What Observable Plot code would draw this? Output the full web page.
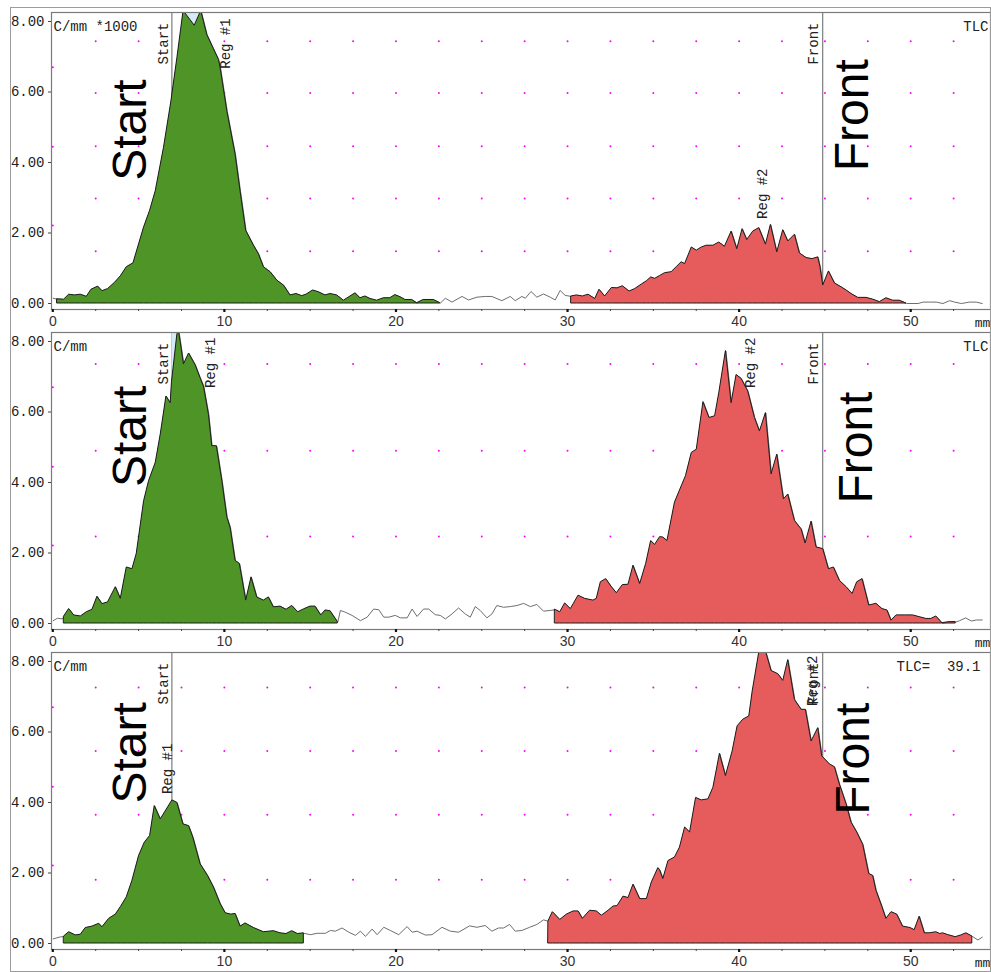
<!DOCTYPE html>
<html>
<head>
<meta charset="utf-8">
<script src="https://cdn.jsdelivr.net/npm/d3@7"></script>
<script src="https://cdn.jsdelivr.net/npm/@observablehq/plot@0.6"></script>
<style>
  body { margin: 0; background: #fff; }
  #chart { position: relative; width: 991px; height: 972px; }
  #chart svg { position: absolute; left: 0; }
  #border { position: absolute; left: 10px; top: 7px; width: 981px; height: 965px; box-sizing: border-box;
            border: 1px solid #9c9c9c; pointer-events: none; }
</style>
</head>
<body>
<div id="chart"><div id="border"></div></div>
<script>
// Radio-TLC scans: position along the plate (mm) and counts per mm.
const scan1 = [[0.02,0.15],[0.27,0.12],[0.66,0.11],[0.95,0.25],[1.28,0.23],[1.63,0.25],[1.98,0.19],[2.25,0.39],[2.64,0.48],[2.89,0.35],[3.22,0.41],[3.61,0.58],[3.96,0.77],[4.31,1.03],[4.70,1.14],[5.32,2.16],[5.67,2.63],[6.00,3.19],[6.48,4.42],[6.91,5.73],[7.26,6.96],[7.62,8.30],[8.27,7.88],[8.65,8.30],[9.00,7.62],[9.68,6.91],[9.78,6.68],[10.17,5.45],[10.65,4.23],[10.94,3.19],[11.27,2.06],[11.72,1.64],[12.01,1.40],[12.30,1.03],[12.69,0.89],[13.08,0.65],[13.47,0.51],[13.85,0.23],[14.20,0.27],[14.53,0.21],[14.78,0.25],[15.17,0.37],[15.50,0.32],[15.89,0.23],[16.18,0.27],[16.57,0.23],[16.96,0.08],[17.35,0.20],[17.64,0.29],[17.93,0.15],[18.22,0.20],[18.51,0.13],[18.90,0.08],[19.29,0.15],[19.67,0.15],[19.96,0.24],[20.26,0.18],[20.55,0.10],[20.94,0.10],[21.23,0.01],[21.61,0.10],[22.20,0.10],[22.58,0.01],[22.88,0.15],[23.26,0.04],[23.85,0.20],[24.23,0.10],[24.72,0.18],[25.20,0.20],[25.59,0.20],[26.17,0.08],[26.66,0.20],[26.95,0.08],[27.34,0.20],[27.54,0.15],[27.87,0.34],[28.21,0.18],[28.60,0.27],[28.99,0.18],[29.28,0.10],[29.57,0.37],[29.86,0.23],[30.23,0.20],[30.54,0.23],[30.89,0.20],[31.22,0.25],[31.61,0.13],[31.86,0.39],[32.19,0.20],[32.58,0.44],[32.91,0.43],[33.22,0.49],[33.61,0.34],[33.94,0.41],[34.33,0.54],[34.62,0.63],[34.87,0.74],[35.10,0.70],[35.39,0.78],[35.68,0.86],[36.07,0.89],[36.36,1.03],[36.65,1.17],[36.85,1.12],[37.24,1.59],[37.53,1.50],[37.82,1.59],[38.11,1.64],[38.50,1.64],[38.84,1.73],[39.17,1.61],[39.56,2.04],[39.89,1.54],[40.20,2.11],[40.47,1.80],[40.82,2.04],[41.17,2.14],[41.56,1.67],[41.85,2.23],[42.22,1.45],[42.57,2.08],[42.86,1.76],[43.25,1.95],[43.54,1.42],[43.93,1.29],[44.28,1.26],[44.61,1.31],[44.74,1.03],[44.90,0.51],[45.23,0.91],[45.58,0.57],[45.97,0.46],[46.26,0.37],[46.55,0.27],[46.94,0.16],[47.42,0.16],[47.81,0.11],[48.20,0.04],[48.58,0.15],[48.97,0.08],[49.36,0.08],[49.75,0.00],[50.43,0.00],[50.72,0.04],[51.11,0.04],[51.49,0.04],[51.88,0.00],[52.27,0.08],[52.56,0.04],[52.95,0.00],[53.43,0.04],[53.82,0.04],[54.17,0.00]];

const scan2 = [[0.02,0.08],[0.27,0.15],[0.56,0.13],[0.66,0.20],[0.95,0.41],[1.24,0.23],[1.63,0.20],[1.98,0.32],[2.31,0.39],[2.60,0.76],[2.89,0.55],[3.22,0.60],[3.67,1.03],[3.96,0.70],[4.31,1.59],[4.64,1.54],[4.89,1.97],[5.32,3.47],[5.61,4.04],[6.00,4.56],[6.29,5.36],[6.62,6.44],[6.87,6.25],[6.94,6.82],[7.26,8.20],[7.35,8.30],[7.45,7.99],[7.64,7.35],[7.94,7.66],[8.32,7.33],[8.61,6.96],[8.81,6.72],[9.10,5.92],[9.29,5.03],[9.56,5.03],[9.88,4.04],[10.17,3.01],[10.36,2.72],[10.65,1.78],[10.90,1.69],[11.27,0.65],[11.58,1.31],[11.91,0.74],[12.30,0.65],[12.59,0.74],[12.88,0.46],[13.27,0.48],[13.62,0.39],[13.95,0.50],[14.30,0.32],[14.63,0.40],[15.02,0.48],[15.31,0.48],[15.64,0.23],[15.89,0.37],[16.18,0.35],[16.61,0.04],[16.76,0.37],[17.05,0.32],[17.44,0.23],[17.93,0.08],[18.32,0.18],[18.70,0.41],[19.00,0.39],[19.29,0.18],[19.58,0.18],[19.96,0.23],[20.26,0.16],[20.65,0.16],[20.94,0.41],[21.23,0.20],[21.61,0.41],[21.91,0.41],[22.29,0.25],[22.58,0.23],[22.88,0.13],[23.26,0.27],[23.65,0.44],[24.04,0.27],[24.33,0.18],[24.62,0.48],[24.91,0.37],[25.30,0.16],[25.59,0.27],[25.88,0.51],[26.27,0.46],[26.66,0.48],[27.05,0.51],[27.44,0.57],[27.83,0.48],[28.21,0.54],[28.60,0.35],[28.99,0.37],[29.28,0.39],[29.57,0.32],[29.86,0.57],[30.19,0.41],[30.64,0.79],[31.02,0.70],[31.51,0.65],[31.70,0.70],[31.94,1.17],[32.25,1.26],[32.58,1.03],[32.87,0.86],[33.22,1.09],[33.55,1.10],[33.84,1.64],[34.23,1.12],[34.58,1.69],[34.87,2.34],[35.10,2.23],[35.39,2.45],[35.58,2.44],[35.82,2.34],[36.26,3.43],[36.55,3.77],[36.90,4.18],[37.24,4.84],[37.53,4.93],[37.92,6.28],[38.27,5.83],[38.60,5.88],[38.84,6.53],[39.23,7.73],[39.56,6.25],[39.85,7.05],[40.14,6.94],[40.53,6.58],[40.92,5.83],[41.21,5.45],[41.56,5.97],[41.89,4.23],[42.22,4.79],[42.61,3.52],[42.86,3.66],[43.25,2.91],[43.64,2.67],[43.87,2.27],[44.22,2.89],[44.51,2.16],[44.90,2.11],[45.23,1.54],[45.52,1.59],[45.87,1.21],[46.26,1.03],[46.61,0.84],[46.88,1.17],[47.19,1.26],[47.58,0.51],[48.00,0.56],[48.35,0.41],[48.64,0.37],[48.88,0.08],[49.17,0.23],[49.65,0.23],[50.14,0.23],[50.52,0.18],[50.91,0.13],[51.20,0.13],[51.49,0.20],[51.84,0.01],[52.27,0.04],[52.62,0.04],[52.85,0.08],[53.20,0.16],[53.53,0.07],[53.82,0.10],[54.17,0.10]];

const scan3 = [[0.02,0.13],[0.37,0.18],[0.66,0.20],[0.95,0.32],[1.34,0.23],[1.63,0.25],[1.92,0.44],[2.31,0.48],[2.70,0.56],[2.89,0.46],[3.28,0.70],[3.67,0.82],[3.96,1.03],[4.31,1.31],[4.64,1.78],[5.03,2.49],[5.36,2.86],[5.67,3.05],[5.94,3.90],[6.29,3.52],[6.64,3.80],[6.97,4.06],[7.26,3.99],[7.61,3.38],[7.94,3.33],[8.19,3.00],[8.61,2.25],[9.04,1.92],[9.39,1.59],[9.78,1.12],[10.07,0.86],[10.40,0.82],[10.65,0.84],[10.94,0.48],[11.23,0.57],[11.72,0.44],[12.30,0.32],[12.88,0.35],[13.27,0.29],[13.62,0.27],[13.95,0.35],[14.28,0.27],[14.63,0.29],[15.02,0.25],[15.41,0.29],[15.89,0.29],[16.18,0.37],[16.47,0.35],[16.86,0.44],[17.25,0.32],[17.64,0.23],[17.93,0.35],[18.22,0.20],[18.61,0.41],[18.90,0.25],[19.29,0.46],[19.67,0.37],[20.16,0.25],[20.65,0.48],[20.94,0.32],[21.23,0.35],[21.71,0.24],[22.10,0.25],[22.68,0.46],[23.17,0.35],[23.65,0.32],[24.29,0.50],[24.72,0.46],[25.20,0.51],[25.59,0.35],[25.98,0.44],[26.27,0.44],[26.62,0.54],[26.95,0.35],[27.34,0.37],[27.79,0.46],[28.21,0.54],[28.60,0.67],[28.89,0.63],[29.14,0.89],[29.57,0.67],[29.96,0.82],[30.35,0.91],[30.64,0.91],[30.89,0.70],[31.31,0.93],[31.70,0.91],[32.00,0.79],[32.39,0.93],[32.68,1.05],[32.91,1.06],[33.26,1.33],[33.55,1.29],[33.84,1.67],[34.23,1.26],[34.62,1.26],[34.91,1.73],[35.29,2.14],[35.39,2.08],[35.58,1.83],[35.88,2.34],[36.26,2.44],[36.55,2.72],[36.85,3.29],[37.14,3.15],[37.49,4.13],[37.82,4.06],[38.21,4.09],[38.50,4.42],[38.88,5.38],[39.23,4.75],[39.62,5.45],[39.91,6.16],[40.24,6.35],[40.59,6.44],[40.79,7.15],[41.17,8.25],[41.40,8.35],[41.60,8.22],[41.89,7.73],[42.28,7.64],[42.57,7.45],[42.86,8.04],[43.25,6.91],[43.64,6.63],[43.89,6.63],[44.22,5.73],[44.61,6.11],[44.84,5.31],[45.29,5.08],[45.58,5.00],[45.87,4.51],[46.26,3.95],[46.55,3.43],[46.88,3.15],[47.23,2.80],[47.58,1.97],[47.81,1.92],[48.00,1.50],[48.35,1.03],[48.58,0.70],[48.88,0.89],[49.21,0.82],[49.55,0.48],[49.98,0.44],[50.23,0.38],[50.52,0.76],[50.82,0.29],[51.11,0.29],[51.49,0.32],[51.72,0.27],[51.88,0.29],[52.18,0.24],[52.62,0.18],[52.95,0.23],[53.24,0.29],[53.59,0.20],[53.92,0.10],[54.17,0.18]];

const scans = [scan1, scan2, scan3];

// Integration regions per scan (mm): region #1 (green) and region #2 (red)
const region1Span = [[0.27, 22.58], [0.66, 16.61], [0.66, 14.63]];
const region2Span = [[30.23, 49.75], [29.28, 52.62], [28.89, 53.59]];
// Off-scale shading above the Start peak
const offScaleSpan = [[7.62, 8.65], [6.94, 7.35], null];

// Start and solvent front positions (mm)
const startMm = 6.94;
const frontMm = 44.87;

// Axis ticks
const majorTicks = [0, 10, 20, 30, 40, 50];
const yTicks = [0, 2, 4, 6, 8];
const gridColumns = d3.range(2.5, 53, 2.5);
const gridRows = [[1.48, 2.98, 4.46, 5.97, 7.44], [2.47, 4.90, 7.36], [1.81, 3.65, 5.46, 7.26]];
const edgeDots = [2.21, 4.45, 6.70];

// Texts
const unitLabels = ["C/mm *1000", "C/mm", "C/mm"];
const cornerLabels = ["TLC", "TLC", "TLC=\u00a0\u00a039.1"];
const markerLabels = [
  [{text: "Start", mm: 6.43, top: 7.97}, {text: "Reg #1", mm: 10.06, top: 8.09}, {text: "Reg #2", mm: 41.36, top: 3.83}, {text: "Front", mm: 44.33, top: 7.97}],
  [{text: "Start", mm: 6.43, top: 7.97}, {text: "Reg #1", mm: 9.19, top: 8.11}, {text: "Reg #2", mm: 40.66, top: 8.11}, {text: "Front", mm: 44.33, top: 7.97}],
  [{text: "Start", mm: 6.43, top: 7.97}, {text: "Reg #1", mm: 6.68, top: 5.67}, {text: "Reg #2", mm: 44.27, top: 8.17}, {text: "Front", mm: 44.33, top: 7.97}]
];
const bigLabels = [
  [{text: "Start", mm: 4.56, mid: 4.92}, {text: "Front", mm: 46.60, mid: 5.34}],
  [{text: "Start", mm: 4.56, mid: 5.31}, {text: "Front", mm: 46.84, mid: 4.99}],
  [{text: "Start", mm: 4.56, mid: 5.41}, {text: "Front", mm: 46.66, mid: 5.24}]
];

const xDomain = [-0.076, 54.65];
const yDomain = [-0.17, 8.255];
const mono = "'Liberation Mono', 'DejaVu Sans Mono', monospace";
const sans = "'Liberation Sans', Arial, sans-serif";

function drawScan(i) {
  const scan = scans[i].map(([mm, v]) => ({mm, v}));
  const within = ([a, b]) => scan.filter(d => d.mm >= a - 1e-6 && d.mm <= b + 1e-6);
  const dots = [];
  for (const y of gridRows[i]) for (const x of gridColumns) dots.push({x, y});
  for (const y of edgeDots) dots.push({x: 0, y});

  const marks = [
    Plot.dot(dots, {x: "x", y: "y", r: 1, fill: "#ff00ff", stroke: null}),
    Plot.ruleX([startMm, frontMm], {y1: 0, y2: yDomain[1], stroke: "#7c7c7c", strokeWidth: 1.2}),
    Plot.line(scan, {x: "mm", y: "v", stroke: "#6e6e6e", strokeWidth: 1, clip: true})
  ];
  if (offScaleSpan[i]) {
    marks.push(Plot.areaY(within(offScaleSpan[i]), {x: "mm", y1: "v", y2: yDomain[1] + 1, fill: "#d6eaf8", clip: true}));
  }
  marks.push(
    Plot.areaY(within(region1Span[i]), {x: "mm", y: "v", fill: "#4f9426", stroke: "#1c1c1c", strokeWidth: 1, clip: true}),
    Plot.areaY(within(region2Span[i]), {x: "mm", y: "v", fill: "#e65c5c", stroke: "#1c1c1c", strokeWidth: 1, clip: true}),
    Plot.frame({stroke: "#7a7a7a", strokeWidth: 1.2}),
    Plot.axisY({ticks: yTicks, tickFormat: d => d.toFixed(2), tickSize: 3, tickPadding: 4, label: null,
      fontFamily: mono, fontSize: 14, stroke: "#444", fill: "#222"}),
    Plot.axisX({ticks: gridColumns, tickFormat: () => "", tickSize: 2, label: null, stroke: "#444"}),
    Plot.axisX({ticks: majorTicks, tickSize: 3, tickPadding: 4, label: null, strokeWidth: 2.2,
      fontFamily: sans, fontSize: 14, stroke: "#111", fill: "#333"}),
    Plot.text(["mm"], {x: 54.18, frameAnchor: "bottom", dy: 13, lineAnchor: "middle", text: d => d,
      fontFamily: mono, fontSize: 13, fill: "#222"}),
    Plot.text([unitLabels[i]], {frameAnchor: "top-left", dx: 2, dy: 14, lineAnchor: "middle", text: d => d,
      fontFamily: mono, fontSize: 14, fill: "#222"}),
    Plot.text([cornerLabels[i]], {frameAnchor: "top-right", dx: i === 2 ? -10 : -2, dy: 14, lineAnchor: "middle",
      text: d => d, fontFamily: mono, fontSize: 14, fill: "#222"}),
    Plot.text(markerLabels[i], {x: "mm", y: "top", text: "text", rotate: -90, textAnchor: "end", lineAnchor: "middle",
      fontFamily: mono, fontSize: 14, fill: "#222"}),
    Plot.text(bigLabels[i], {x: "mm", y: "mid", text: "text", rotate: -90, textAnchor: "middle", lineAnchor: "middle",
      fontFamily: sans, fontSize: 48, fill: "#000"})
  );

  const svg = Plot.plot({
    width: 991,
    height: 320,
    marginLeft: 51,
    marginRight: 1,
    marginTop: 12,
    marginBottom: 11,
    x: {domain: xDomain},
    y: {domain: yDomain},
    style: {background: "transparent", overflow: "visible"},
    marks
  });
  svg.style.top = `${i * 320}px`;
  return svg;
}

const chart = document.getElementById("chart");
const border = document.getElementById("border");
for (let i = 0; i < 3; i++) chart.insertBefore(drawScan(i), border);
</script>
</body>
</html>
